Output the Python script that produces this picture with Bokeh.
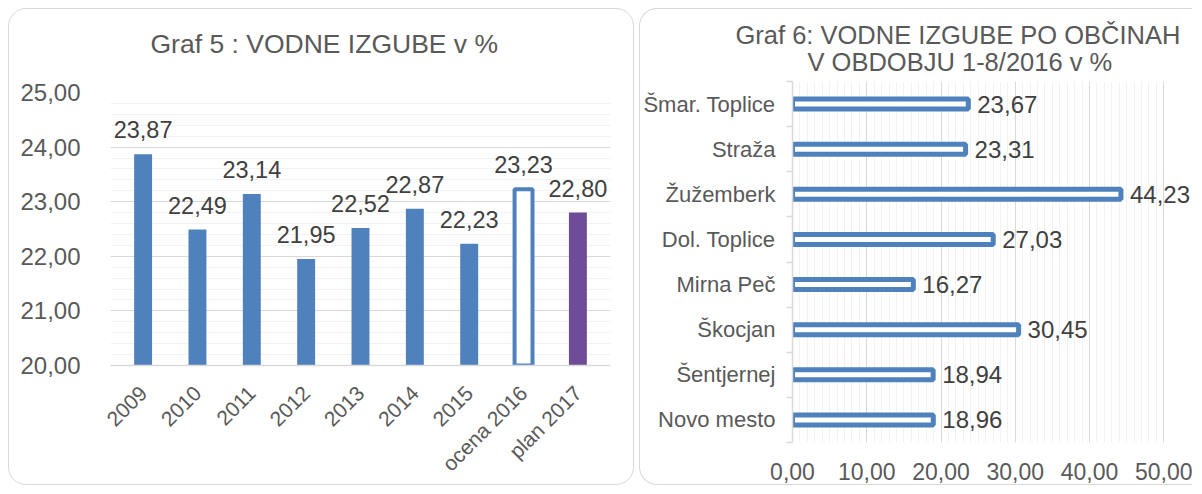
import math
from bokeh.plotting import figure
from bokeh.models import (FactorRange, Range1d, FixedTicker, Title, ColumnDataSource,
                          LabelSet)
from bokeh.core.properties import value
from bokeh.embed import file_html
from bokeh.resources import INLINE

# ---------------- data: Graf 5 ----------------
years = ["2009", "2010", "2011", "2012", "2013", "2014", "2015", "ocena 2016", "plan 2017"]
losses = [23.87, 22.49, 23.14, 21.95, 22.52, 22.87, 22.23, 23.23, 22.80]
y5_ticks = [20, 21, 22, 23, 24, 25]

# ---------------- data: Graf 6 ----------------
municipalities = ["Šmar. Toplice", "Straža", "Žužemberk", "Dol. Toplice",
                  "Mirna Peč", "Škocjan", "Šentjernej", "Novo mesto"]
mun_losses = [23.67, 23.31, 44.23, 27.03, 16.27, 30.45, 18.94, 18.96]
x6_ticks = [0, 10, 20, 30, 40, 50]

FONT = "Liberation Sans"
AXIS_TEXT = "#595959"
LABEL_TEXT = "#404040"
BLUE = "#4F81BD"
PURPLE = "#6F4C97"
GRID = "#d9d9d9"
MINOR = "#f2f2f2"
BORDER = "1.5px solid #d9d9d9"


def fmt(v):
    return f"{v:.2f}".replace(".", ",")


# ================= Graf 5 =================
x5_range = FactorRange(*years, range_padding=0.1, range_padding_units="absolute")
p1 = figure(width=626, height=477, x_range=x5_range, y_range=Range1d(20, 25),
            output_backend="svg", toolbar_location=None, title=None,
            min_border_left=101, min_border_right=25, min_border_top=83,
            min_border_bottom=112)
p1.styles = {"position": "absolute", "left": "8px", "top": "8px",
             "border": BORDER, "border-radius": "18px"}
p1.border_fill_color = None
p1.outline_line_color = None

# spacer between title and plot area, then the title itself
p1.add_layout(Title(text=" ", text_font_size="1px", text_color="white", standoff=30.5), "above")
p1.add_layout(Title(text="Graf 5 : VODNE IZGUBE v %", align="left", offset=40,
                    text_font=FONT, text_font_size="26.5px", text_font_style="normal",
                    text_color=AXIS_TEXT, standoff=0), "above")

n5 = len(years)
fills = [BLUE] * (n5 - 2) + ["white", PURPLE]
lines = [BLUE] * (n5 - 2) + [BLUE, PURPLE]
lws = [0] * (n5 - 2) + [4, 0]
src5 = ColumnDataSource(dict(x=years, top=losses, fill=fills, line=lines, lw=lws,
                             lab=[fmt(v) for v in losses]))
p1.vbar(x="x", top="top", bottom=20, width=0.33, source=src5,
        fill_color="fill", line_color="line", line_width="lw")
p1.add_layout(LabelSet(x="x", y="top", text="lab", source=src5, y_offset=16,
                       text_align="center", text_baseline="alphabetic",
                       text_font=value(FONT), text_font_size=value("23.5px"),
                       text_color=LABEL_TEXT))

yt = FixedTicker(ticks=y5_ticks, minor_ticks=[20 + 0.2 * k for k in range(26)])
p1.yaxis.ticker = yt
p1.ygrid.ticker = yt
p1.yaxis.major_label_overrides = {t: fmt(t) for t in y5_ticks}
p1.yaxis.axis_line_color = None
p1.yaxis.major_tick_line_color = None
p1.yaxis.minor_tick_line_color = None
p1.yaxis.major_tick_out = 0
p1.yaxis.major_label_standoff = 26
p1.yaxis.major_label_text_font = FONT
p1.yaxis.major_label_text_font_size = "24px"
p1.yaxis.major_label_text_color = AXIS_TEXT
p1.ygrid.grid_line_color = GRID
p1.ygrid.minor_grid_line_color = MINOR
p1.xgrid.grid_line_color = None

p1.xaxis.major_label_orientation = math.pi / 4
p1.xaxis.major_tick_line_color = None
p1.xaxis.major_tick_out = 0
p1.xaxis.axis_line_color = GRID
p1.xaxis.axis_line_width = 1.5
p1.xaxis.major_label_standoff = 24
p1.xaxis.major_label_text_font = FONT
p1.xaxis.major_label_text_font_size = "21px"
p1.xaxis.major_label_text_color = AXIS_TEXT

# ================= Graf 6 =================
n6 = len(municipalities)
ypos = [n6 - 0.5 - i for i in range(n6)]
x6_end = x6_ticks[-1] * 1.08   # blank room right of the last gridline for labels
p2 = figure(width=553, height=477, x_range=Range1d(0, x6_end), y_range=Range1d(0, n6),
            output_backend="svg", toolbar_location=None, title=None,
            min_border_left=150, min_border_right=0, min_border_top=72,
            min_border_bottom=44)
p2.styles = {"position": "absolute", "left": "639px", "top": "8px",
             "border-top": BORDER, "border-bottom": BORDER, "border-left": BORDER,
             "border-radius": "18px 0 0 18px"}
p2.border_fill_color = None
p2.outline_line_color = None

p2.add_layout(Title(text="V OBDOBJU 1-8/2016 v %", align="left", offset=15,
                    text_font=FONT, text_font_size="25.5px", text_font_style="normal",
                    text_color=AXIS_TEXT, standoff=12), "above")
p2.add_layout(Title(text="Graf 6: VODNE IZGUBE PO OBČINAH", align="left", offset=-57,
                    text_font=FONT, text_font_size="25.5px", text_font_style="normal",
                    text_color=AXIS_TEXT, standoff=-18), "above")

src6 = ColumnDataSource(dict(y=ypos, v=mun_losses, lab=[fmt(v) for v in mun_losses]))
p2.hbar(y="y", right="v", left=0, height=0.22, source=src6,
        fill_color="white", line_color=BLUE, line_width=5)
p2.add_layout(LabelSet(x="v", y="y", text="lab", source=src6, x_offset=9,
                       text_align="left", text_baseline="middle",
                       text_font=value(FONT), text_font_size=value("24px"),
                       text_color=LABEL_TEXT))

xt = FixedTicker(ticks=x6_ticks, minor_ticks=list(range(0, x6_ticks[-1] + 1)))
p2.xaxis.ticker = xt
p2.xgrid.ticker = xt
p2.xaxis.major_label_overrides = {t: fmt(t) for t in x6_ticks}
p2.xaxis.axis_line_color = None
p2.xaxis.major_tick_line_color = None
p2.xaxis.minor_tick_line_color = None
p2.xaxis.major_tick_out = 0
p2.xaxis.major_label_standoff = 16
p2.xaxis.major_label_text_font = FONT
p2.xaxis.major_label_text_font_size = "23px"
p2.xaxis.major_label_text_color = AXIS_TEXT
p2.xgrid.grid_line_color = GRID
p2.xgrid.minor_grid_line_color = MINOR
p2.ygrid.grid_line_color = None

yt6 = FixedTicker(ticks=ypos, minor_ticks=list(range(0, n6 + 1)))
p2.yaxis.ticker = yt6
p2.yaxis.major_label_overrides = {y: m for y, m in zip(ypos, municipalities)}
p2.yaxis.axis_line_color = GRID
p2.yaxis.axis_line_width = 1.5
p2.yaxis.major_tick_line_color = None
p2.yaxis.major_tick_out = 0
p2.yaxis.major_tick_in = 0
p2.yaxis.minor_tick_line_color = GRID
p2.yaxis.minor_tick_line_width = 1.5
p2.yaxis.minor_tick_out = 6
p2.yaxis.minor_tick_in = 0
p2.yaxis.major_label_standoff = 11
p2.yaxis.major_label_text_font = FONT
p2.yaxis.major_label_text_font_size = "22px"
p2.yaxis.major_label_text_color = AXIS_TEXT

open("out.html", "w").write(file_html([p1, p2], INLINE))
